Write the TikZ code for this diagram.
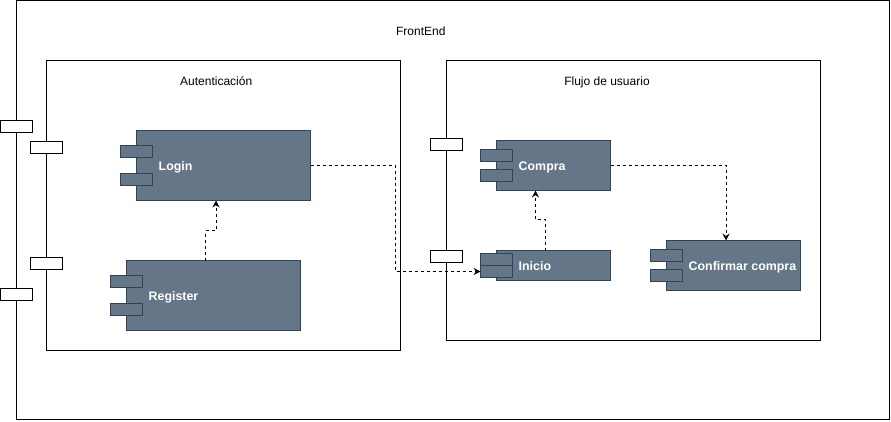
\documentclass[tikz,border=0pt]{standalone}
\usepackage{fontspec}
\setmainfont{Liberation Sans}
\usetikzlibrary{positioning,arrows.meta}
\definecolor{compfill}{HTML}{647687}
\definecolor{compline}{HTML}{314354}
\begin{document}
\begin{tikzpicture}
    [x=1pt,y=-1pt,
    frame/.style={draw,line width=1pt,inner sep=0pt,outer sep=0pt,anchor=north west},
    port/.style={draw,fill=white,line width=1pt,minimum width=32pt,minimum height=12pt,inner sep=0pt,outer sep=0pt},
    comp/.style={draw=compline,fill=compfill,line width=1pt,inner sep=0pt,outer sep=0pt,anchor=north west},
    jetty/.style={draw=compline,fill=compfill,line width=1pt,minimum width=32pt,minimum height=12pt,inner sep=0pt,outer sep=0pt},
    lbl/.style={text=white,font=\bfseries\fontsize{12.4pt}{14pt}\selectfont,inner sep=0pt,text height=9pt,text depth=0pt},
    title/.style={font=\fontsize{12pt}{14pt}\selectfont,inner sep=0pt,text height=9pt,text depth=0pt},
    dep/.style={draw,line width=1pt,dash pattern=on 3pt off 3pt,-{Stealth[length=7pt,width=7pt,inset=2.5pt]}}]
    \useasboundingbox (0,0) rectangle (891,421);
    \node[frame,minimum width=873pt,minimum height=419pt] (front) at (16.5,0.5) {};
    \node[frame,minimum width=354pt,minimum height=290pt] (auth) at (46.5,60.5) {};
    \node[frame,minimum width=374pt,minimum height=280pt] (flow) at (446.5,60.5) {};
    \node[title] (frontT) at (420.8,30.5) {FrontEnd};
    \node[title] (authT) at (216.2,80.5) {Autenticación};
    \node[title] (flowT) at (607,80.5) {Flujo de usuario};
    \node[port] (fp1) at (16.5,126) {};
    \node[port] (fp2) at (16.5,294) {};
    \node[port] (ap1) at (46.5,147) {};
    \node[port] (ap2) at (46.5,263) {};
    \node[port] (up1) at (446.5,144) {};
    \node[port] (up2) at (446.5,256.5) {};
    \node[comp,minimum width=174pt,minimum height=70pt] (login) at (136.5,130.5) {};
    \node[jetty] (loginJ1) at ([yshift=-21pt]login.north west) {};
    \node[jetty] (loginJ2) at ([yshift=-49pt]login.north west) {};
    \node[lbl,right=22pt of login.west] (loginL) {Login};
    \node[comp,minimum width=174pt,minimum height=70pt] (reg) at (126.5,260.5) {};
    \node[jetty] (regJ1) at ([yshift=-21pt]reg.north west) {};
    \node[jetty] (regJ2) at ([yshift=-49pt]reg.north west) {};
    \node[lbl,right=22pt of reg.west] (regL) {Register};
    \node[comp,minimum width=114pt,minimum height=50pt] (com) at (496.5,140.5) {};
    \node[jetty] (comJ1) at ([yshift=-15pt]com.north west) {};
    \node[jetty] (comJ2) at ([yshift=-35pt]com.north west) {};
    \node[lbl,right=22pt of com.west] (comL) {Compra};
    \node[comp,minimum width=114pt,minimum height=30pt] (ini) at (496.5,250.5) {};
    \node[jetty] (iniJ1) at ([yshift=-9pt]ini.north west) {};
    \node[jetty] (iniJ2) at ([yshift=-21pt]ini.north west) {};
    \node[lbl,right=22pt of ini.west] (iniL) {Inicio};
    \node[comp,minimum width=134pt,minimum height=50pt] (conf) at (666.5,240.5) {};
    \node[jetty] (confJ1) at ([yshift=-15pt]conf.north west) {};
    \node[jetty] (confJ2) at ([yshift=-35pt]conf.north west) {};
    \node[lbl,right=22pt of conf.west] (confL) {Confirmar compra};
    \draw[dep] ([xshift=-8pt]reg.north) -- ++(0,-30) -| ([xshift=-7.5pt]login.south);
    \draw[dep] (login.east) -- ++(85,0) |- (iniJ2.west);
    \draw[dep] ([xshift=-8pt]ini.north) -- ++(0,-31) -| ([xshift=-18pt]com.south);
    \draw[dep] (com.east) -| ([xshift=-7.5pt]conf.north);
\end{tikzpicture}
\end{document}
